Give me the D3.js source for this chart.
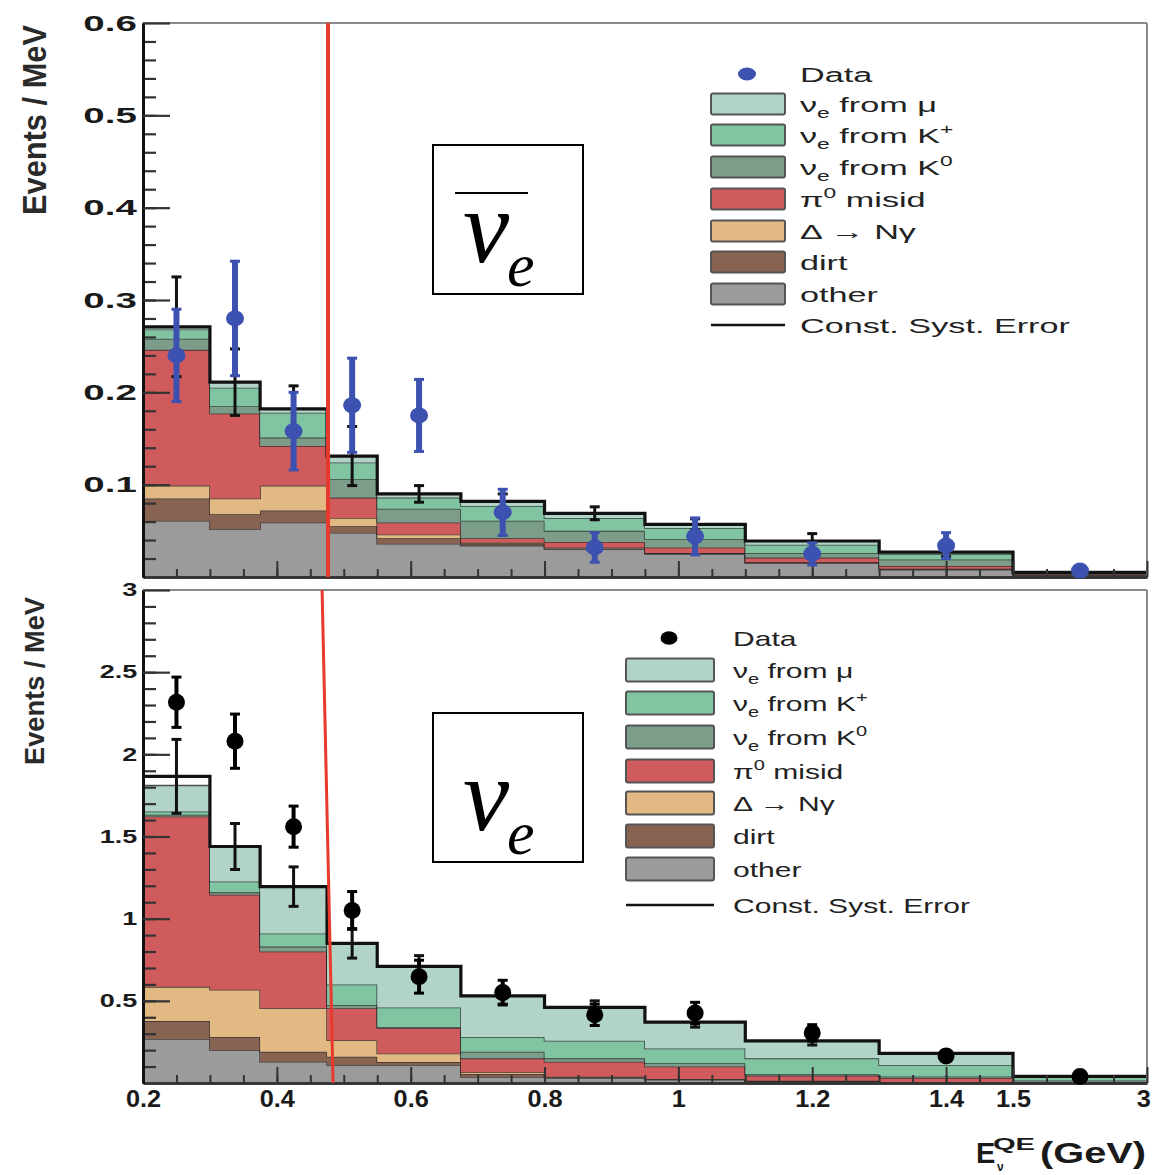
<!DOCTYPE html>
<html><head><meta charset="utf-8">
<script src="https://cdn.jsdelivr.net/npm/d3@7"></script>
<style>body{margin:0;background:#fff} svg{display:block;font-family:"Liberation Sans",Arial,sans-serif}</style>
</head><body>
<svg id="c" width="1153" height="1175"></svg>
<script>
// ---------------- DATA ----------------
const binEdges = [0.2,0.3,0.375,0.475,0.55,0.675,0.8,0.95,1.1,1.3,1.5,3.0];
const componentKeys = ["other","dirt","delta","pi0","K0","Kplus","mu"];
const componentColors = {mu:"#b1d3c8", Kplus:"#80c4a2", K0:"#7b9d89", pi0:"#d05b5d", delta:"#e2b983", dirt:"#896352", other:"#9b9b9b"};

// antineutrino (top) panel, per-bin contributions (Events/MeV)
const nubarOther = [0.061,0.052,0.059,0.048,0.036,0.034,0.030,0.025,0.015,0.008,0.002];
const nubarDirt  = [0.024,0.016,0.013,0.007,0.006,0.002,0.001,0.001,0.001,0.001,0.000];
const nubarDelta = [0.014,0.017,0.027,0.009,0.004,0.001,0.001,0.000,0.000,0.000,0.000];
const nubarPi0   = [0.147,0.092,0.043,0.022,0.013,0.005,0.006,0.006,0.005,0.003,0.001];
const nubarK0    = [0.012,0.008,0.009,0.020,0.015,0.019,0.012,0.009,0.005,0.007,0.001];
const nubarKplus = [0.010,0.020,0.027,0.018,0.012,0.016,0.014,0.012,0.009,0.006,0.001];
const nubarMu    = [0.003,0.006,0.004,0.007,0.004,0.005,0.005,0.004,0.004,0.002,0.000];
const nubarOutline = [0.271,0.211,0.182,0.131,0.090,0.082,0.069,0.057,0.039,0.027,0.005];
const nubarSystErr = [0.054,0.036,0.025,0.032,0.009,0.008,0.007,0.006,0.008,0.005,0.002];
const nubarData    = [0.240,0.280,0.158,0.186,0.175,0.070,0.032,0.044,0.025,0.034,0.007];
const nubarDataErr = [0.050,0.062,0.042,0.051,0.039,0.025,0.016,0.020,0.012,0.014,0.005];

// neutrino (bottom) panel
const nuOther = [0.268,0.201,0.130,0.110,0.110,0.037,0.030,0.020,0.010,0.005,0.002];
const nuDirt  = [0.110,0.079,0.060,0.050,0.018,0.018,0.005,0.003,0.002,0.001,0.000];
const nuDelta = [0.207,0.287,0.265,0.100,0.052,0.010,0.003,0.002,0.001,0.000,0.000];
const nuPi0   = [1.037,0.579,0.345,0.195,0.155,0.085,0.092,0.075,0.032,0.024,0.003];
const nuK0    = [0.010,0.014,0.030,0.020,0.005,0.040,0.020,0.020,0.008,0.010,0.010];
const nuKplus = [0.020,0.066,0.080,0.125,0.120,0.090,0.107,0.090,0.097,0.070,0.020];
const nuMu    = [0.158,0.213,0.285,0.250,0.250,0.250,0.203,0.160,0.106,0.070,0.005];
const nuOutline = [1.866,1.439,1.195,0.850,0.710,0.530,0.460,0.370,0.256,0.180,0.040];
const nuSystErr = [0.225,0.140,0.120,0.090,0.065,0.050,0.040,0.030,0.025,0.015,0.005];
const nuData    = [2.317,2.080,1.560,1.050,0.647,0.550,0.415,0.426,0.305,0.165,0.040];
const nuDataErr = [0.153,0.165,0.125,0.115,0.100,0.075,0.065,0.065,0.050,0.025,0.010];

// analysis threshold line (GeV) at top and bottom of each panel
const cutTopX = [0.4765,0.4765], cutTopY = [0.6,0];
const cutBotX = [0.4676,0.4840], cutBotY = [3,0];

// ticks
const xMajorTicks = [0.2,0.4,0.6,0.8,1.0,1.2,1.4,1.5,3.0];
const xMinorTicks = d3.range(0.25,1.5,0.05).concat([1.875,2.25,2.625]);
const topYTicks = [0.1,0.2,0.3,0.4,0.5,0.6];
const topYMinor = d3.range(0.02,0.6,0.02);
const botYTicks = [0.5,1,1.5,2,2.5,3];
const botYMinor = d3.range(0.1,3,0.1);

const legendLabels = [
  [["Data"]],
  [["ν"],["e","sub"],[" from μ"]],
  [["ν"],["e","sub"],[" from K"],["+","sup"]],
  [["ν"],["e","sub"],[" from K"],["0","sup"]],
  [["π"],["0","sup"],[" misid"]],
  [["Δ → Nγ"]],
  [["dirt"]],
  [["other"]],
  [["Const. Syst. Error"]]
];
const legendKeys = ["data","mu","Kplus","K0","pi0","delta","dirt","other","syst"];

// ---------------- DRAW ----------------
const svg = d3.select("#c");
svg.append("rect").attr("width",1153).attr("height",1175).attr("fill","#fff");

const x = d3.scaleLinear().domain([0.2,1.5,3.0]).range([143,1013,1147]);
const yTop = d3.scaleLinear().domain([0,0.6]).range([577,23]);
const yBot = d3.scaleLinear().domain([0,3]).range([1083,590]);

function rows(arrs){
  return binEdges.slice(0,-1).map((e,i)=>{
    const r={}; componentKeys.forEach((k,j)=>r[k]=arrs[j][i]); return r;});
}
function stepPts(vals){
  const p=[]; vals.forEach((v,i)=>{p.push({x:binEdges[i],v});p.push({x:binEdges[i+1],v});}); return p;
}

function panel(opt){
  const y = opt.y;
  const g = svg.append("g");
  const series = d3.stack().keys(componentKeys)(rows(opt.comps));
  const area = d3.area().x(d=>x(d.x)).y0(d=>y(d.y0)).y1(d=>y(d.y1));
  const line = d3.line().x(d=>x(d.x)).y(d=>y(d.y1));
  series.forEach(s=>{
    const pts=[]; s.forEach((d,i)=>{pts.push({x:binEdges[i],y0:d[0],y1:d[1]});pts.push({x:binEdges[i+1],y0:d[0],y1:d[1]});});
    g.append("path").attr("d",area(pts)).attr("fill",componentColors[s.key]);
    g.append("path").attr("d",line(pts)).attr("fill","none").attr("stroke","#262626").attr("stroke-width",1.6).attr("stroke-opacity",0.8);
  });
  // outline (total with const syst)
  g.append("path").attr("d",d3.line().x(d=>x(d.x)).y(d=>y(d.v))(stepPts(opt.outline)))
    .attr("fill","none").attr("stroke","#111").attr("stroke-width",3.2);

  // frame top/right
  g.append("line").attr("x1",x(0.2)).attr("x2",x(3)).attr("y1",y.range()[1]).attr("y2",y.range()[1]).attr("stroke","#8a8a8a").attr("stroke-width",2);
  g.append("line").attr("x1",x(3)).attr("x2",x(3)).attr("y1",y.range()[1]).attr("y2",y.range()[0]).attr("stroke","#8a8a8a").attr("stroke-width",2);

  // axes
  const yb = y.range()[0];
  const xa = g.append("g").attr("transform",`translate(0,${yb})`);
  xa.call(d3.axisBottom(x).tickValues(xMinorTicks).tickSize(-8).tickSizeOuter(0).tickFormat(""));
  const xm = g.append("g").attr("transform",`translate(0,${yb})`);
  xm.call(d3.axisBottom(x).tickValues(xMajorTicks).tickSize(-16).tickSizeOuter(0).tickPadding(8)
    .tickFormat(opt.xLabels ? d3.format("~g") : ""));
  [xa,xm].forEach(a=>{a.select(".domain").attr("stroke","#333").attr("stroke-width",2.5);
    a.selectAll(".tick line").attr("stroke","#333").attr("stroke-width",2);});
  xm.selectAll(".tick text").attr("font-size",23).attr("font-weight","bold").attr("fill","#1a1a1a")
    .attr("transform","scale(1.1,1)")
    .attr("text-anchor",d=>d===3?"end":"middle").attr("x",d=>d===3?3:0);

  const ya = g.append("g").attr("transform",`translate(${x(0.2)},0)`);
  ya.call(d3.axisLeft(y).tickValues(opt.yMinor).tickSize(-13).tickSizeOuter(0).tickFormat(""));
  const ym = g.append("g").attr("transform",`translate(${x(0.2)},0)`);
  ym.call(d3.axisLeft(y).tickValues(opt.yTicks).tickSize(-27).tickSizeOuter(0).tickPadding(opt.yPad).tickFormat(opt.yFmt));
  [ya,ym].forEach(a=>{a.select(".domain").attr("stroke","#111").attr("stroke-width",3);
    a.selectAll(".tick line").attr("stroke","#333").attr("stroke-width",2.2);});
  ym.selectAll(".tick text").attr("font-size",opt.yFont).attr("font-weight","bold").attr("fill","#1a1a1a")
    .attr("transform",`scale(${opt.ySx},1)`);

  // syst error bars (MC)
  const centers = binEdges.slice(0,-1).map((e,i)=>(e+binEdges[i+1])/2);
  const eb = g.append("g").attr("stroke","#111").attr("stroke-width",3);
  centers.forEach((c,i)=>{
    const e=opt.syst[i], v=opt.outline[i];
    eb.append("line").attr("x1",x(c)).attr("x2",x(c)).attr("y1",y(v+e)).attr("y2",y(v-e));
    eb.append("line").attr("x1",x(c)-5).attr("x2",x(c)+5).attr("y1",y(v+e)).attr("y2",y(v+e));
    eb.append("line").attr("x1",x(c)-5).attr("x2",x(c)+5).attr("y1",y(v-e)).attr("y2",y(v-e));
  });

  // threshold red line
  g.append("line").attr("x1",x(opt.cutX[0])).attr("x2",x(opt.cutX[1]))
    .attr("y1",y(opt.cutY[0])).attr("y2",y(opt.cutY[1])).attr("stroke","#e8392e").attr("stroke-width",opt.cutW);

  // data
  const dg = g.append("g");
  centers.forEach((c,i)=>{
    const v=opt.data[i], e=opt.dataErr[i];
    dg.append("line").attr("x1",x(c)).attr("x2",x(c)).attr("y1",y(v+e)).attr("y2",y(v-e))
      .attr("stroke",opt.dataColor).attr("stroke-width",opt.dataW);
    [v+e,v-e].forEach(w=>dg.append("line").attr("x1",x(c)-5).attr("x2",x(c)+5).attr("y1",y(w)).attr("y2",y(w))
      .attr("stroke",opt.dataColor).attr("stroke-width",3));
    dg.append("ellipse").attr("cx",x(c)).attr("cy",y(v)).attr("rx",opt.rx).attr("ry",opt.ry).attr("fill",opt.dataColor);
  });

  // legend
  const lg = svg.append("g");
  legendKeys.forEach((k,i)=>{
    const cy = opt.legY[i];
    if(k==="data"){
      lg.append("ellipse").attr("cx",opt.legMarkX).attr("cy",cy).attr("rx",opt.rx).attr("ry",opt.ry*0.8).attr("fill",opt.dataColor);
    } else if(k==="syst"){
      lg.append("line").attr("x1",opt.legX0).attr("x2",opt.legX1).attr("y1",cy).attr("y2",cy).attr("stroke","#111").attr("stroke-width",2.5);
    } else {
      lg.append("rect").attr("x",opt.legX0).attr("y",cy-opt.swH/2).attr("width",opt.legX1-opt.legX0).attr("height",opt.swH)
        .attr("fill",componentColors[k]).attr("stroke","#555").attr("stroke-width",2).attr("rx",2);
    }
    const t = lg.append("text").attr("transform",`translate(${opt.legTX},${cy+7.5}) scale(${opt.legSx},1)`)
      .attr("font-size",21).attr("fill","#222");
    legendLabels[i].forEach(seg=>{
      const ts=t.append("tspan").text(seg[0]);
      if(seg[1]==="sub"){ts.attr("font-size",14).attr("dy",6);}
      else if(seg[1]==="sup"){ts.attr("font-size",14).attr("dy",-9);}
      else if(t.node().childNodes.length>1){
        const prev=legendLabels[i][t.node().childNodes.length-2];
        if(prev && prev[1]==="sub") ts.attr("dy",-6);
        if(prev && prev[1]==="sup") ts.attr("dy",9);
      }
    });
  });

  // y title
  svg.append("text").attr("transform",`translate(${opt.yTitleX},${opt.yTitleY}) rotate(-90)`)
    .attr("text-anchor","middle").attr("font-weight","bold").attr("font-size",opt.yTitleSize)
    .attr("textLength",opt.yTitleLen).attr("lengthAdjust","spacingAndGlyphs").attr("fill","#2a2a2a").text("Events / MeV");

  // neutrino label box
  const bx = svg.append("g");
  bx.append("rect").attr("x",433).attr("y",opt.boxY).attr("width",150).attr("height",149)
    .attr("fill","#fff").attr("stroke","#000").attr("stroke-width",2);
  bx.append("text").attr("x",463).attr("y",opt.boxY+117).attr("font-family","'Liberation Serif','Times New Roman',serif")
    .attr("font-style","italic").attr("font-size",104).text("ν");
  bx.append("text").attr("x",507).attr("y",opt.boxY+141).attr("font-family","'Liberation Serif','Times New Roman',serif")
    .attr("font-style","italic").attr("font-size",62).text("e");
  if(opt.bar) bx.append("line").attr("x1",455).attr("x2",528).attr("y1",opt.boxY+48).attr("y2",opt.boxY+48).attr("stroke","#000").attr("stroke-width",2.2);
}

panel({y:yTop, comps:[nubarOther,nubarDirt,nubarDelta,nubarPi0,nubarK0,nubarKplus,nubarMu],
  outline:nubarOutline, syst:nubarSystErr, data:nubarData, dataErr:nubarDataErr,
  dataColor:"#3c51b0", dataW:6, rx:9, ry:8,
  xLabels:false, yTicks:topYTicks, yMinor:topYMinor, yFmt:d3.format(".1f"), yPad:3.5, yFont:22, ySx:1.75,
  cutX:cutTopX, cutY:cutTopY, cutW:4,
  legY:[74,104,135,167,199,231,262,294,325], legMarkX:747, legX0:711, legX1:785, legTX:800, legSx:1.63, swH:21,
  yTitleX:46, yTitleY:120, yTitleSize:34, yTitleLen:190,
  boxY:145, bar:true});

panel({y:yBot, comps:[nuOther,nuDirt,nuDelta,nuPi0,nuK0,nuKplus,nuMu],
  outline:nuOutline, syst:nuSystErr, data:nuData, dataErr:nuDataErr,
  dataColor:"#000", dataW:4, rx:8.5, ry:8.5,
  xLabels:true, yTicks:botYTicks, yMinor:botYMinor, yFmt:d3.format("~g"), yPad:3.8, yFont:18, ySx:1.5,
  cutX:cutBotX, cutY:cutBotY, cutW:3,
  legY:[638,670,703,737,771,803,836,869,905], legMarkX:669, legX0:626, legX1:714, legTX:733, legSx:1.43, swH:23,
  yTitleX:44, yTitleY:681, yTitleSize:28, yTitleLen:168,
  boxY:713, bar:false});

// x-axis title
const xt = svg.append("g").attr("font-weight","bold").attr("fill","#1a1a1a");
xt.append("text").attr("x",976).attr("y",1163).attr("font-size",29).text("E");
xt.append("text").attr("x",993).attr("y",1150).attr("font-size",16).attr("textLength",42).attr("lengthAdjust","spacingAndGlyphs").text("QE");
xt.append("text").attr("x",997).attr("y",1171).attr("font-size",12).text("ν");
xt.append("text").attr("x",1040).attr("y",1163).attr("font-size",29).attr("textLength",106).attr("lengthAdjust","spacingAndGlyphs").text("(GeV)");
</script>
</body></html>
